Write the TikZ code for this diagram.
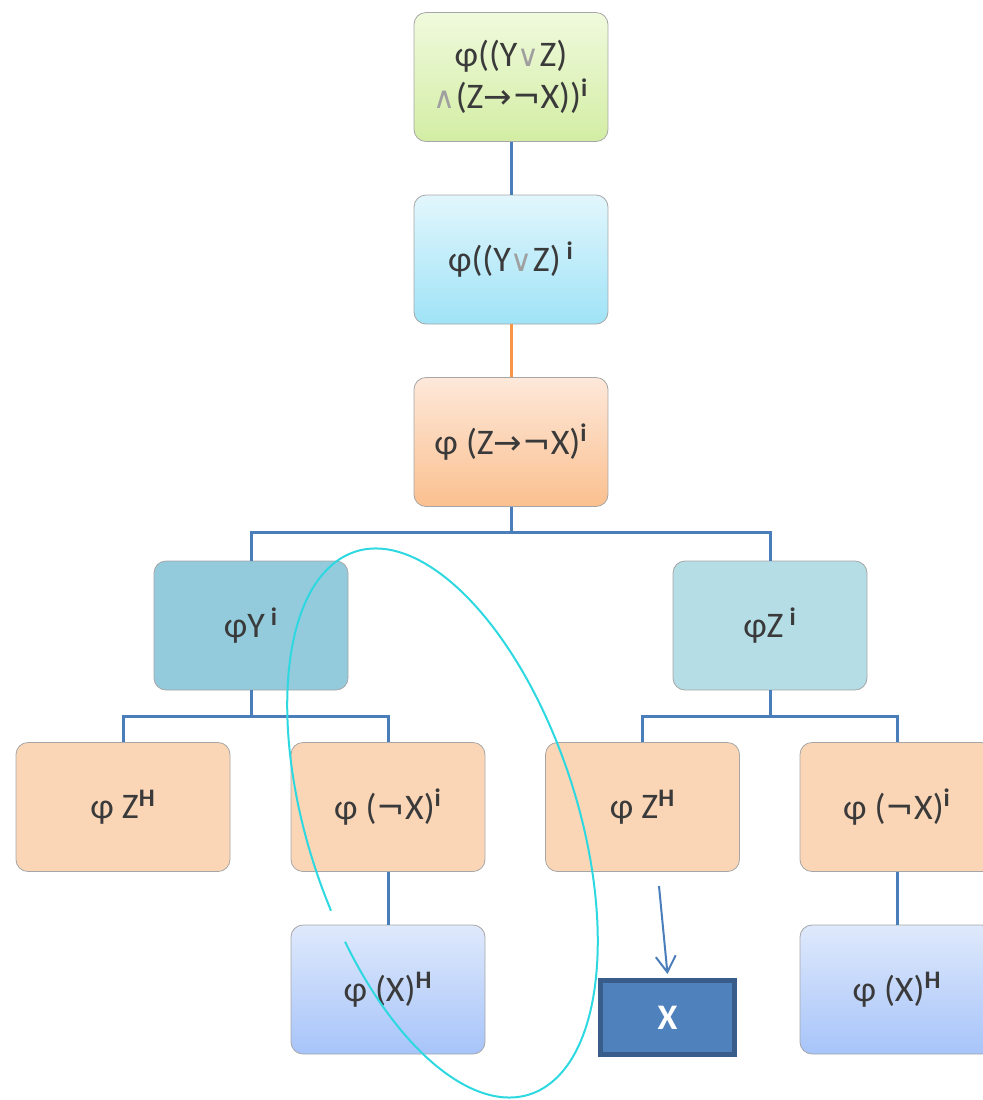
\documentclass[tikz,border=0pt]{standalone}
\usepackage{fontspec}
\setmainfont{Carlito}
\newfontfamily\symf{DejaVu Sans}
\usetikzlibrary{arrows.meta}
\definecolor{lineblue}{HTML}{4A7EBB}
\definecolor{lineorange}{HTML}{F79646}
\definecolor{ellcol}{HTML}{2ED8E0}
\definecolor{txt}{HTML}{3A3A3A}
\definecolor{gA}{HTML}{F0FADD}\definecolor{gB}{HTML}{D3EDA4}
\definecolor{bA}{HTML}{E2F6FC}\definecolor{bB}{HTML}{9FE3F7}
\definecolor{oA}{HTML}{FDE8DA}\definecolor{oB}{HTML}{FBC08F}
\definecolor{yfill}{HTML}{93CBDC}
\definecolor{zfill}{HTML}{B5DDE6}
\definecolor{ofill}{HTML}{FAD6B7}
\definecolor{hA}{HTML}{DFE9FC}\definecolor{hB}{HTML}{A7C4F9}
\definecolor{xfill}{HTML}{4F81BD}
\definecolor{xborder}{HTML}{385D8A}
\newcommand\myor{{\color{gray!75}\symf\fontsize{15}{15}\selectfont ∨}}
\newcommand\myand{{\color{gray!75}\symf\fontsize{15}{15}\selectfont ∧}}
\newcommand\myarr{{\symf\fontsize{17}{17}\selectfont →}}
\newcommand\myneg{{\symf\fontsize{17}{17}\selectfont ¬}}
\newcommand\sups[1]{\textsuperscript{\bfseries #1}}
\begin{document}
\begin{tikzpicture}[x=0.5pt,y=-0.5pt,
  box/.style={rounded corners=6pt, minimum width=97pt, minimum height=64.5pt,
    draw=black!35, line width=0.4pt, text=txt, font=\fontsize{18}{21}\selectfont,
    align=center, inner sep=0pt},
  wide/.style={minimum width=107pt},
  conn/.style={line width=1.5pt, draw=lineblue},
  conno/.style={line width=1.5pt, draw=lineorange}]
\useasboundingbox (0,0) rectangle (983,1100);
\clip (0,0) rectangle (983,1100);
% nodes
\node[box, top color=gA, bottom color=gB] (c1) at (511,77) {φ((Y\myor Z)\\\myand(Z\myarr\myneg X))\sups{i}};
\node[box, top color=bA, bottom color=bB] (c2) at (511,259.5) {φ((Y\myor Z)\,\sups{i}};
\node[box, top color=oA, bottom color=oB] (c3) at (511,442) {φ (Z\myarr\myneg X)\sups{i}};
\node[box, fill=yfill] (y) at (251,625.5) {φY\,\sups{i}};
\node[box, fill=zfill] (z) at (770,625.5) {φZ\,\sups{i}};
\node[box, wide, fill=ofill] (zh1) at (123,807) {φ Z\sups{H}};
\node[box, fill=ofill] (nx1) at (388,807) {φ (\myneg X)\sups{i}};
\node[box, fill=ofill] (zh2) at (642.5,807) {φ Z\sups{H}};
\node[box, fill=ofill] (nx2) at (897,807) {φ (\myneg X)\sups{i}};
\node[box, top color=hA, bottom color=hB] (xh1) at (388,989.5) {φ (X)\sups{H}};
\node[box, top color=hA, bottom color=hB] (xh2) at (897,989.5) {φ (X)\sups{H}};
\node[draw=xborder, fill=xfill, line width=2.5pt, minimum width=67pt, minimum height=37pt,
  inner sep=0pt, text=white, font=\fontsize{18}{21}\selectfont\bfseries] (xb) at (667.5,1017.5) {X};
% connectors
\draw[conn] (c1) -- (c2);
\draw[conno] (c2) -- (c3);
\draw[conn] (c3.south) -- ++(0,26) -| (y.north);
\draw[conn] (c3.south) -- ++(0,26) -| (z.north);
\draw[conn] (y.south) -- ++(0,26) -| (zh1.north);
\draw[conn] (y.south) -- ++(0,26) -| (nx1.north);
\draw[conn] (z.south) -- ++(0,26) -| (zh2.north);
\draw[conn] (z.south) -- ++(0,26) -| (nx2.north);
\draw[conn] (nx1) -- (xh1);
\draw[conn] (nx2) -- (xh2);
\coordinate (as) at (659,886);
\draw[line width=1pt, draw=lineblue, -{Straight Barb[length=8pt,width=10pt]}] (as) -- ([yshift=2pt]xb.north);
% ellipse
\begin{scope}[shift={(442.5,823)}, rotate=17.8]
\draw[ellcol, line width=1pt] (170:135 and 285) arc[start angle=170, end angle=523, x radius=135, y radius=285];
\end{scope}
\end{tikzpicture}
\end{document}
